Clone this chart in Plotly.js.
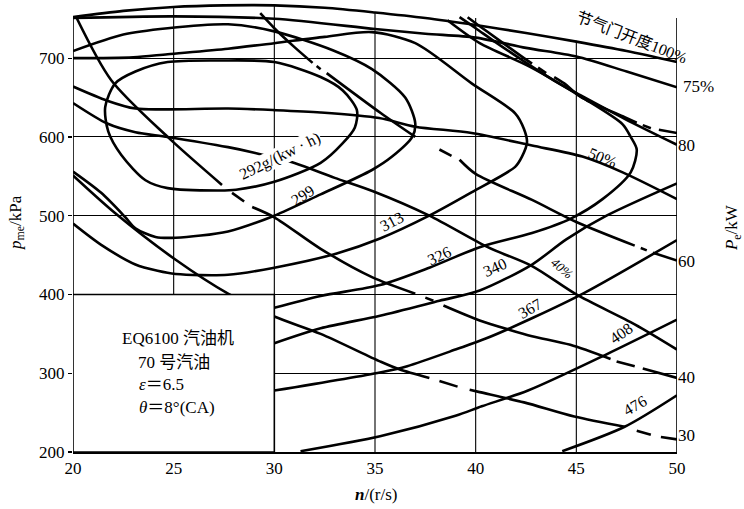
<!DOCTYPE html>
<html>
<head>
<meta charset="utf-8">
<script src="https://cdn.plot.ly/plotly-3.0.1.min.js"></script>
<style>
  html, body { margin: 0; padding: 0; background: #fff; }
  #chart { width: 744px; height: 509px; }
</style>
</head>
<body>
<div id="chart"></div>
<script>
// Universal characteristic map of the EQ6100 petrol engine
// x: engine speed n (r/s), y: mean effective pressure p_me (kPa)

// Throttle opening lines
const n_t100 = [20, 22.5, 25, 27.5, 30, 32.5, 35, 37.5, 40, 42.5, 45, 47.5, 50];
const p_t100 = [752, 760, 765, 767, 767, 764, 758, 751, 742, 732, 721, 709, 695];
const n_t75 = [20, 25, 30, 35, 37.5, 40, 42.5, 45, 47.5, 50];
const p_t75 = [751, 753, 750, 737, 731, 726, 713, 702, 683, 663];
const n_t50 = [20, 21.7, 23.1, 24.7, 27.7, 30, 32.3, 35.2, 37, 39.8, 42.8, 45.3, 47.3, 50];
const p_t50 = [664, 646, 636, 635, 636, 634, 631, 624, 613, 605, 589, 575, 555, 521];
const n_t40 = [20, 21.7, 23.1, 24.7, 27.7, 29, 31, 33, 34.9, 37.7, 40.6, 42.8, 45, 47.9, 50];
const p_t40 = [643, 617, 606, 600, 587, 580, 567, 548, 531, 500, 460, 436, 400, 362, 330];

// Equal power lines (null = break in the dash-dot pattern)
const n_pe80 = [39.2, 40, 41, 42.4, 44, 45.2, 47.4, 50];
const p_pe80 = [752, 738, 720, 696, 670, 653, 623, 590];
const n_pe60 = [29.3, 30, 31.0, 31.9, null, 32.1, 32.3, null, 32.6, 35.3, 37.0, null, 38.2, 38.8, null, 39.2, 40, 42.8, 45, 47.9, null, 48.2, 48.5, null, 48.8, 50];
const p_pe60 = [757, 738, 714, 694, null, 690, 686, null, 681, 630, 600, null, 584, 576, null, 571, 553, 520, 492, 462, null, 459, 456, null, 453, 443];
const n_pe40 = [20.2, 21.9, 24.7, 27.4, null, 27.9, 28.5, null, 28.9, 30, 32.3, 34.85, 37.0, null, 37.5, 37.9, null, 38.4, 40.2, 41.7, 42.8, 44.7, 46.7, null, 47.0, 47.9, null, 48.3, 50];
const p_pe40 = [750, 672, 600, 539, null, 529, 518, null, 511, 498, 458, 422, 401, null, 396, 392, null, 386, 367, 355, 347, 336, 318, null, 315, 309, null, 306, 294];
const n_pe30 = [20, 22.1, 25.1, 27.7, 30, 32.3, 35.25, 36.2, 37.7, null, 38.2, 39.1, null, 39.7, 40.2, 42.4, 44.9, 47.4, null, 48.0, 48.7, null, 49.2, 50];
const p_pe30 = [551, 503, 444, 401, 372, 350, 315, 305, 294, null, 290, 283, null, 279, 276, 263, 245, 232, null, 227, 222, null, 219, 216];

// Specific fuel consumption contours, g/(kW·h)
const n_b292 = [21.6, 21.75, 22.4, 23.6, 24.7, 27.3, 28.1, 30, 32.3, 33.4, 34.0, 34.1, 33.4, 32.3, 30, 27.3, 24.7, 23.1, 22.1, 21.6];
const p_b292 = [638, 607, 577, 545, 535, 532, 533, 543, 567, 592, 612, 634, 659, 676, 695, 697, 695, 683, 668, 638];
const n_b299 = [20, 22.5, 24.7, 27.7, 30, 32.9, 34.85, 36.5, 37.0, 36.85, 35.85, 34.85, 32.3, 30, 27.7, 25.1, 24.1, 23.1, 22.6, 21.4, 20];
const p_b299 = [709, 730, 738, 743, 734, 710, 686, 650, 617, 600, 575, 558, 527, 500, 480, 472, 473, 484, 498, 529, 556];
const n_b313 = [20, 23, 24.7, 27.7, 30, 32.5, 34.85, 37, 39.8, 41.96, 42.4, 42.55, 42.3, 41.96, 39.82, 37.69, 35.25, 33.1, 30, 27.7, 25.1, 24.2, 23.1, 21.4, 20];
const p_b313 = [700, 701, 705, 712, 719, 727, 733, 719, 668, 630, 610, 593, 575, 562, 530, 500, 471, 452, 434, 425, 426, 430, 438, 463, 490];
const n_b326 = [30, 32.3, 35.25, 37.7, 40.2, 42.8, 44.7, 46.3, 47.7, 48.0, 47.7, 47.3, 45.3, 42.7, 40.2, 38.6];
const p_b326 = [383, 398, 412, 434, 460, 478, 496, 521, 555, 584, 600, 616, 650, 689, 719, 748];
const n_b340lo = [30, 32.3, 35.25, 38.2, 40.2, 42.8, 44.5, 46.5, 50];
const p_b340lo = [338, 357, 373, 392, 405, 438, 470, 500, 541];
const n_b340hi = [39.6, 40.5, 42.4, 42.8, null, 43.1, 43.5, null, 43.9, 44.4, 45.2, 47.4, 48.0, null, 48.3, 48.7, null, 49.1, 50];
const p_b340hi = [752, 735, 700, 693, null, 688, 681, null, 676, 668, 651, 625, 618, null, 615, 611, null, 609, 605];
const n_b367 = [30, 35.25, 36.6, 39.1, 40.5, 42.9, 45.4, 50];
const p_b367 = [278, 301, 309, 331, 344, 371, 402, 469];
const n_b408 = [31.3, 35.25, 39, 40.3, 42.6, 46.5, 50];
const p_b408 = [201, 220, 246, 258, 278, 324, 368];
const n_b476 = [44.3, 47.4, 50];
const p_b476 = [201, 232, 272];

// Axis ticks
const xTicks = [20, 25, 30, 35, 40, 45, 50];
const yTicks = [200, 300, 400, 500, 600, 700];
const peTicks = [30, 40, 60, 80];
const peRange = [27.1, 104.4];

// Vertical grid lines end where they meet the top boundary
const gridN = [25, 30, 35, 40, 45];
const gridTop = [765, 767, 758, 751, 722];

const serif = "'Liberation Serif', 'Noto Sans CJK SC', serif";
const cjk = "'Liberation Serif', 'Noto Sans CJK SC', sans-serif";

const curves = [
  [n_t100, p_t100], [n_t75, p_t75], [n_t50, p_t50], [n_t40, p_t40],
  [n_pe80, p_pe80], [n_pe60, p_pe60], [n_pe40, p_pe40], [n_pe30, p_pe30],
  [n_b292, p_b292], [n_b299, p_b299], [n_b313, p_b313], [n_b326, p_b326],
  [n_b340lo, p_b340lo], [n_b340hi, p_b340hi], [n_b367, p_b367],
  [n_b408, p_b408], [n_b476, p_b476]
];

const traces = curves.map(([xs, ys]) => ({
  type: 'scatter', mode: 'lines', x: xs, y: ys,
  line: { color: '#000', width: 2.6, shape: 'spline', smoothing: 0.8 },
  connectgaps: false, hoverinfo: 'skip', showlegend: false
}));
// anchor trace for the right-hand power axis
traces.push({ type: 'scatter', mode: 'markers', x: [20], y: [50], yaxis: 'y2',
  marker: { opacity: 0 }, hoverinfo: 'skip', showlegend: false });

const shapes = [];
gridN.forEach((g, i) => shapes.push({ type: 'line', xref: 'x', yref: 'y', x0: g, x1: g, y0: 200, y1: gridTop[i],
  line: { color: '#000', width: 1.1 }, layer: 'below' }));
shapes.push({ type: 'line', xref: 'x', yref: 'y', x0: 20, x1: 20, y0: 200, y1: 752, line: { color: '#000', width: 1.6 }, layer: 'below' });
shapes.push({ type: 'line', xref: 'x', yref: 'y', x0: 50, x1: 50, y0: 200, y1: 751, line: { color: '#000', width: 1.6 }, layer: 'below' });
// data block in the lower-left corner
shapes.push({ type: 'rect', xref: 'x', yref: 'y', x0: 20, x1: 30, y0: 200, y1: 400,
  fillcolor: '#fff', line: { color: '#000', width: 1.6 }, layer: 'above' });

function lab(x, y, text, angle, size, extra) {
  return Object.assign({ x: x, y: y, xref: 'x', yref: 'y', text: text, showarrow: false,
    xanchor: 'center', yanchor: 'middle',
    textangle: angle, font: { family: serif, size: size, color: '#000' } }, extra || {});
}
function paperLab(x, y, text, angle, size, family) {
  return { xref: 'paper', yref: 'paper', x: x, y: y, text: text, textangle: angle,
    xanchor: 'center', yanchor: 'middle', showarrow: false,
    font: { family: family || serif, size: size, color: '#000' } };
}

const annotations = [
  lab(30.3, 576, '292g/(kw · h)', -26, 16, { bgcolor: '#fff', borderpad: 0 }),
  lab(31.4, 525, '299', -32, 16),
  lab(35.85, 492, '313', -28, 16),
  lab(38.2, 450, '326', -25, 16),
  lab(40.95, 434, '340', -24, 16),
  lab(42.7, 382, '367', -30, 16),
  lab(47.2, 351, '408', -35, 16),
  lab(47.9, 259, '476', -30, 16),
  lab(44.3, 433, '<i>40%</i>', 40, 13),
  lab(46.3, 574, '50%', 22, 16),
  lab(47.75, 726, '节气门开度100%', 21, 16, { font: { family: cjk, size: 16, color: '#000' } }),
  lab(25.2, 344, 'EQ6100 汽油机', 0, 17, { font: { family: cjk, size: 17, color: '#000' } }),
  lab(25.0, 314, '70 号汽油', 0, 17, { font: { family: cjk, size: 17, color: '#000' } }),
  lab(23.2, 286, '<i>ε</i>＝6.5', 0, 17, { xanchor: 'left' }),
  lab(23.2, 256, '<i>θ</i>＝8°(CA)', 0, 17, { xanchor: 'left' }),
  paperLab(1.035, 0.814, '75%', 0, 17),
  paperLab(-0.093, 0.512, '<i>p</i><sub>me</sub>/kPa', -90, 17),
  paperLab(1.093, 0.499, '<i>P</i><sub>e</sub>/kW', -90, 17),
  paperLab(0.503, -0.094, '<b><i>n</i></b>/(r/s)', 0, 17)
];

const layout = {
  width: 744, height: 509,
  margin: { l: 73, r: 67, t: 3, b: 57, pad: 0 },
  paper_bgcolor: '#fff', plot_bgcolor: '#fff',
  showlegend: false,
  xaxis: {
    range: [20, 50], tickvals: xTicks, ticktext: xTicks.map(String),
    showgrid: false, zeroline: false, showline: true, linecolor: '#000', linewidth: 1.6,
    ticks: '', tickfont: { family: serif, size: 17, color: '#000' }
  },
  yaxis: {
    range: [200, 770], tickvals: yTicks, ticktext: yTicks.map(String),
    showgrid: true, gridcolor: '#000', gridwidth: 1.1, zeroline: false, showline: false,
    ticks: 'outside', ticklen: 4, tickcolor: '#000', tickwidth: 1.2,
    tickfont: { family: serif, size: 17, color: '#000' }
  },
  yaxis2: {
    overlaying: 'y', side: 'right', range: peRange, tickvals: peTicks, ticktext: peTicks.map(String),
    showgrid: false, zeroline: false, showline: false, ticks: '',
    tickfont: { family: serif, size: 17, color: '#000' }
  },
  shapes: shapes,
  annotations: annotations
};

Plotly.newPlot('chart', traces, layout, { staticPlot: true, displayModeBar: false });
</script>
</body>
</html>
